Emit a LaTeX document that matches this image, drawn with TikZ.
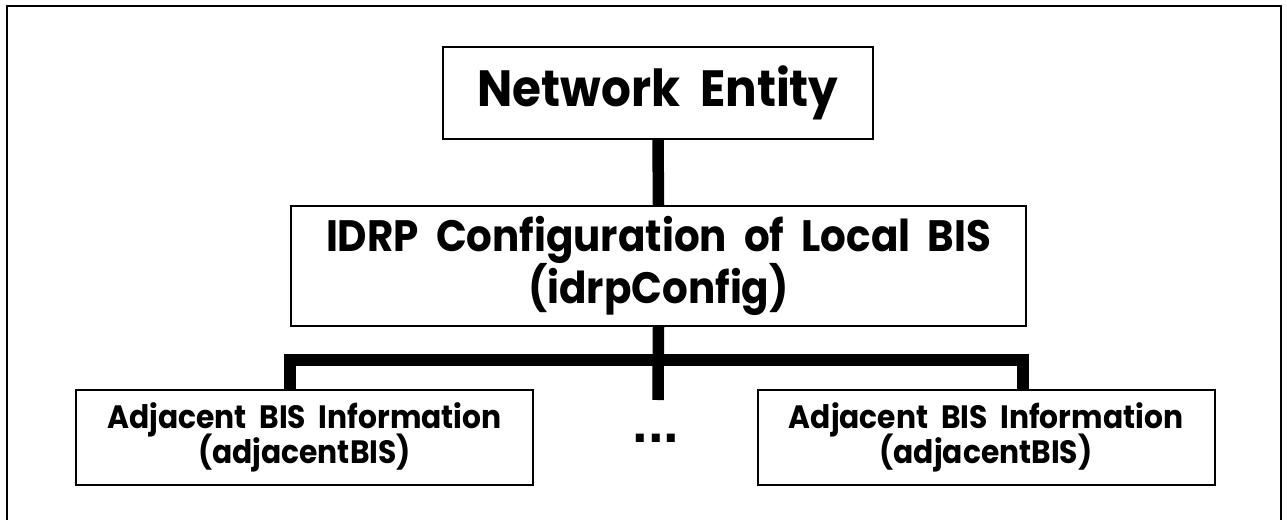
\documentclass[tikz,border=0pt]{standalone}
\usepackage{fontspec}
\setmainfont{Poppins}[FakeStretch=0.92]
\newfontfamily\dotfont{Liberation Sans}
\usetikzlibrary{arrows.meta}
\usepackage{color}

\newcommand\tightlines{\lineskiplimit-100pt\relax}

\tikzset{
    box/.style={draw, line width=0.4mm, inner sep=0pt, align=center},
    bar/.style={line width=2.3mm, line join=miter},
    frame/.style={line width=0.4mm}
}

\begin{document}
\begin{tikzpicture}[x=0.2mm,y=-0.2mm]
        \useasboundingbox (0,0) rectangle (1287,520);
        \draw[frame] (7,520) -- (7,6) -- (1281,6) -- (1281,520);

        \node[box, minimum width=86mm, minimum height=18.4mm, font=\bfseries\fontsize{29}{32}\selectfont] (A) at (658,93) {Network\ \ Entity};
        \node[box, minimum width=147mm, minimum height=24mm, font=\bfseries\fontsize{25}{27}\selectfont\tightlines] (B) at (658.5,266) {IDRP\ \ Configuration\ \ of\ \ Local\ \ BIS\\[0.9mm](idrpConfig)};
        \node[box, minimum width=91.4mm, minimum height=19mm, font=\bfseries\fontsize{18.4}{18.5}\selectfont\tightlines] (C) at (304.5,437.5) {Adjacent\ \ BIS\ \ Information\\[0.4mm](adjacentBIS)};
        \node[box, minimum width=91.4mm, minimum height=19mm, font=\bfseries\fontsize{18.4}{18.5}\selectfont\tightlines] (D) at (986,437.5) {Adjacent\ \ BIS\ \ Information\\[0.4mm](adjacentBIS)};
        \node[anchor=base, inner sep=0pt, font=\dotfont\bfseries\fontsize{32}{32}\selectfont] (E) at (656,442) {...};

        \coordinate (K) at (658,360);
        \coordinate (T) at (658,400);

        \draw[bar] (A.south) -- (B.north);
        \draw[bar] (B.south) -- (T);
        \draw[bar] ([xshift=-2.9mm]C.north) |- (K) -| ([xshift=7.4mm]D.north);
    \end{tikzpicture}
\end{document}
